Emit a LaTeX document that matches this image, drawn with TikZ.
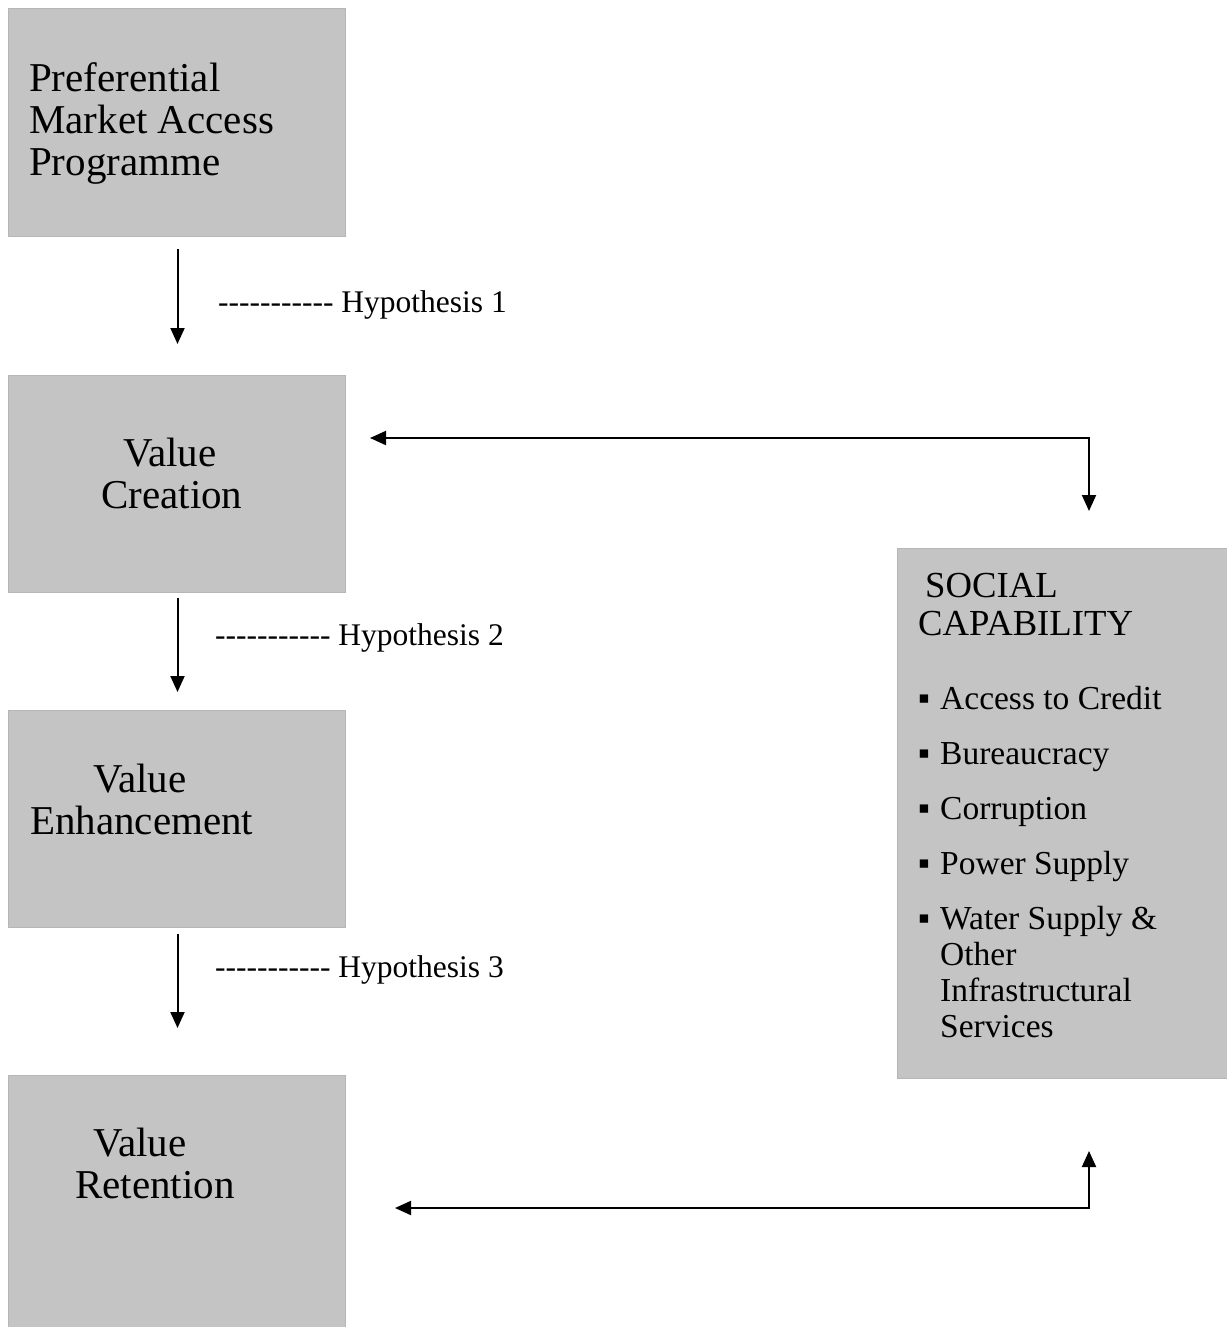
\documentclass[tikz,border=0pt]{standalone}
\usepackage{fontspec}
\setmainfont{Liberation Serif}
\usetikzlibrary{positioning,calc,arrows.meta}
\definecolor{boxgray}{HTML}{C4C4C4}
\definecolor{boxrim}{HTML}{B6B6B6}

\begin{document}
\begin{tikzpicture}[x=1pt, y=-1pt]
    \tikzset{
        greybox/.style={rectangle, fill=boxgray, draw=boxrim, line width=1pt,
            inner sep=0pt, anchor=north west},
        boxText/.style={font=\fontsize{41}{42}\selectfont, align=left,
            inner sep=0pt, anchor=base west},
        hypText/.style={font=\fontsize{31.5}{34}\selectfont, inner sep=0pt,
            anchor=base west},
        headText/.style={font=\fontsize{36.7}{38}\selectfont, align=left,
            inner sep=0pt, anchor=base west},
        itemText/.style={font=\fontsize{33.5}{36}\selectfont, align=left,
            inner sep=0pt, anchor=base west},
        flowArrow/.style={-{Triangle[length=16pt, width=14pt]}, line width=2pt},
        loopArrow/.style={{Triangle[length=16pt, width=14pt]}-{Triangle[length=16pt, width=14pt]},
            line width=2pt},
    }
    \newcommand{\hyphenrun}{\foreach \k in {1,...,11}{\mbox{-}}}
    \useasboundingbox (0,0) rectangle (1226,1327);

    % chain of boxes
    \node[greybox, minimum width=337pt, minimum height=228pt] (pma) at (8,8) {};
    \node[greybox, minimum width=337pt, minimum height=217pt] (vcreate) at (8,375) {};
    \node[greybox, minimum width=337pt, minimum height=217pt] (venhance) at (8,710) {};
    \node[greybox, minimum width=337pt, minimum height=262pt] (vretain) at (8,1075) {};
    \node[greybox, minimum width=335pt, minimum height=530pt] (social) at (897,548) {};

    % box texts (anchored on their last line)
    \node[boxText] (pmaText) at (29,175) {Preferential\\Market Access\\Programme};
    \node[boxText] (vcreateText) at (101,508) {\hspace*{22pt}Value\\Creation};
    \node[boxText] (venhanceText) at (30,834) {\hspace*{63pt}Value\\Enhancement};
    \node[boxText] (vretainText) at (75,1198) {\hspace*{18pt}Value\\Retention};
    \node[headText] (socialHead) at (918,635) {\hspace*{7pt}SOCIAL\\CAPABILITY};
    \node[itemText] (socialItems) at (918,1037) {%
        \makebox[22pt][l]{▪}Access to Credit\\[19pt]
        \makebox[22pt][l]{▪}Bureaucracy\\[19pt]
        \makebox[22pt][l]{▪}Corruption\\[19pt]
        \makebox[22pt][l]{▪}Power Supply\\[19pt]
        \makebox[22pt][l]{▪}Water Supply \&\\
        \hspace*{22pt}Other\\
        \hspace*{22pt}Infrastructural\\
        \hspace*{22pt}Services};

    % hypotheses
    \node[hypText] (hyp1) at (218,312) {\hyphenrun{} Hypothesis 1};
    \node[hypText] (hyp2) at (215,645) {\hyphenrun{} Hypothesis 2};
    \node[hypText] (hyp3) at (215,977) {\hyphenrun{} Hypothesis 3};

    % main flow
    \draw[flowArrow] ($(pma.south)+(0.5,12)$) -- ($(vcreate.north)+(0.5,-31)$);
    \draw[flowArrow] ($(vcreate.south)+(0.5,5)$) -- ($(venhance.north)+(0.5,-18)$);
    \draw[flowArrow] ($(venhance.south)+(0.5,6)$) -- ($(vretain.north)+(0.5,-47)$);

    % feedback with social capability
    \coordinate (topTurn) at (1089,438);
    \coordinate (botTurn) at (1089,1208);
    \draw[loopArrow] ($(vcreate.east |- topTurn)+(24,0)$) -- (topTurn)
        -- ($(topTurn |- social.north)+(0,-37)$);
    \draw[loopArrow] ($(vretain.east |- botTurn)+(49,0)$) -- (botTurn)
        -- ($(botTurn |- social.south)+(0,72)$);
\end{tikzpicture}
\end{document}
